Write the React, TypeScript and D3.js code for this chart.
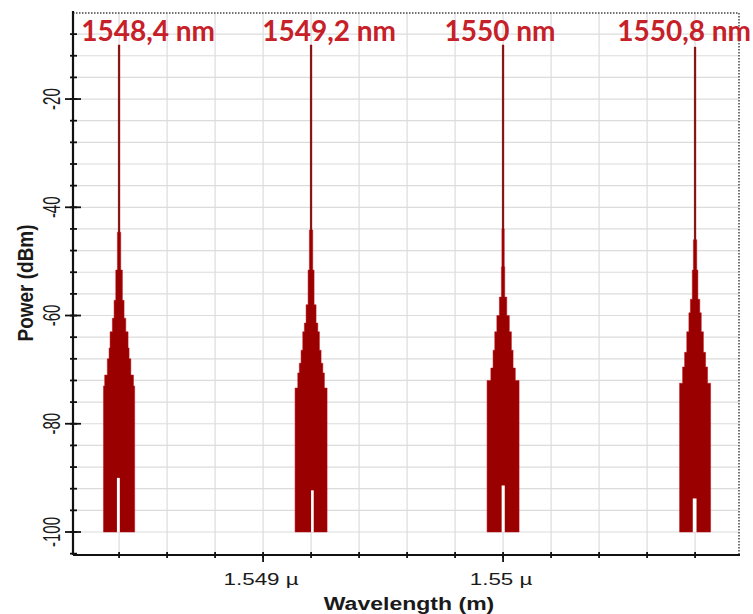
import * as d3 from "d3";

const W = 753;
const H = 614;

// wavelengths in nm, power in dBm
const xDomain = [1548.208, 1550.983];
const yDomain = [-104.25, -4.1];
const floorLevel = -100;

const peakCenters = [1548.4, 1549.2, 1550, 1550.8];
const peakLabels = ["1548,4 nm", "1549,2 nm", "1550 nm", "1550,8 nm"];
const labelDx = [29, 18, -3, -11];

// stepped envelope of each line: level (dBm) held within +/- half width (nm)
const levels1 = [-10, -44.6, -51.6, -57.2, -60.5, -63, -66, -68, -71, -73];
const widths1 = [0.0033, 0.007, 0.0138, 0.0208, 0.028, 0.0375, 0.0417, 0.049, 0.06, 0.065];
const levels2 = [-10, -44.2, -51.6, -58, -61.4, -63, -66.4, -68.8, -70.6, -73.4];
const widths2 = [0.0033, 0.007, 0.0125, 0.0208, 0.028, 0.0347, 0.0417, 0.049, 0.0555, 0.0667];
const levels3 = [-10, -44, -51, -56.6, -60, -63, -66.4, -69.7, -72];
const widths3 = [0.0033, 0.005, 0.007, 0.0154, 0.026, 0.0347, 0.0417, 0.051, 0.0667];
const levels4 = [-10.4, -46, -51.6, -57, -59.5, -63, -66.8, -69.5, -72.5];
const widths4 = [0.0033, 0.007, 0.0117, 0.0196, 0.0258, 0.0347, 0.0437, 0.052, 0.0646];
const envelopes = [
  [levels1, widths1],
  [levels2, widths2],
  [levels3, widths3],
  [levels4, widths4],
];

// gaps near the carrier where the trace does not reach the floor
const notchFrom = [-0.009, 0, -0.006, -0.0096];
const notchTo = [0.003, 0.011, 0.007, 0.006];
const notchTop = [-90, -92.3, -91.4, -93.8];

const yMajor = [-20, -40, -60, -80, -100];
const yMinor = d3.range(-104, -4, 4);
const xTicks = d3.range(1548.4, 1550.9, 0.2);
const xMajor = [1549, 1550];
const xMajorLabels = ["1.549 \u00b5", "1.55 \u00b5"];

const left = 73;
const right = 739;
const top = 13;
const bottom = 555;

const x = d3.scaleLinear().domain(xDomain).range([left, right]);
const y = d3.scaleLinear().domain(yDomain).range([bottom, top]);

const stair = (c: number, lv: number[], hw: number[]) => {
  const m = lv.length - 1;
  const pts: [number, number][] = [];
  for (let k = m; k >= 0; k--) pts.push([c - hw[k], lv[k]]);
  for (let k = 0; k <= m; k++) pts.push([c + hw[k], k < m ? lv[k + 1] : floorLevel]);
  return pts;
};

const area = d3
  .area<[number, number]>()
  .x((d) => x(d[0]))
  .y0(y(floorLevel))
  .y1((d) => y(d[1]))
  .curve(d3.curveStepAfter);

const axisFont = "'Liberation Sans', Arial, sans-serif";

export default function App() {
  return (
    <svg width={W} height={H} style={{ position: "absolute", left: 0, top: 0, background: "#fff" }}>
      {/* grid */}
      <g stroke="#dcdcdc" strokeWidth={1.2}>
        {yMinor
          .filter((v) => v >= -100)
          .map((v) => (
            <line key={"h" + v} x1={left} x2={right} y1={y(v)} y2={y(v)} />
          ))}
        {xTicks.map((v) => (
          <line key={"v" + v} x1={x(v)} x2={x(v)} y1={top} y2={bottom} />
        ))}
      </g>

      {/* spectra */}
      {peakCenters.map((c, i) => {
        const [lv, hw] = envelopes[i];
        return (
          <g key={"p" + i}>
            <path d={area(stair(c, lv, hw)) || ""} fill="#9a0000" stroke="#b8101a" strokeWidth={0.5} />
            <line x1={x(c)} x2={x(c)} y1={y(lv[0])} y2={y(lv[1])} stroke="#7d1414" strokeWidth={1.6} />
            <rect
              x={x(c + notchFrom[i])}
              width={x(c + notchTo[i]) - x(c + notchFrom[i])}
              y={y(notchTop[i])}
              height={y(floorLevel) - y(notchTop[i]) + 0.5}
              fill="#fff"
            />
          </g>
        );
      })}

      {/* frame */}
      <line x1={left} x2={right} y1={top} y2={top} stroke="#444" strokeWidth={1.5} strokeDasharray="1.5 1.5" />
      <line x1={right} x2={right} y1={top} y2={bottom} stroke="#444" strokeWidth={1.5} strokeDasharray="1.5 1.5" />
      <line x1={left} x2={right + 1} y1={bottom} y2={bottom} stroke="#111" strokeWidth={2.2} />
      <line x1={left} x2={left} y1={top - 2} y2={bottom} stroke="#111" strokeWidth={2.2} />

      {/* y ticks */}
      <g stroke="#111" strokeWidth={1.8}>
        {yMinor.map((v) => (
          <line key={"ym" + v} x1={left - 3} x2={left + 4} y1={y(v)} y2={y(v)} />
        ))}
        {yMajor.map((v) => (
          <line key={"yM" + v} x1={left - 8} x2={left + 8} y1={y(v)} y2={y(v)} />
        ))}
      </g>
      <g fontFamily={axisFont} fontSize={15} fill="#1a1a1a">
        {yMajor.map((v) => (
          <text key={"yl" + v} transform={`translate(60,${y(v)}) scale(1.55,1) rotate(-90)`} textAnchor="middle">
            {v}
          </text>
        ))}
      </g>

      {/* x ticks */}
      <g stroke="#111" strokeWidth={1.8}>
        {xTicks.map((v) => (
          <line key={"xm" + v} x1={x(v)} x2={x(v)} y1={bottom - 3} y2={bottom + 3} />
        ))}
        {xMajor.map((v) => (
          <line key={"xM" + v} x1={x(v)} x2={x(v)} y1={bottom} y2={bottom + 7} />
        ))}
      </g>
      <g fontFamily={axisFont} fontSize={16} fill="#1a1a1a">
        {xMajor.map((v, i) => (
          <text key={"xl" + v} transform={`translate(${x(v) - 2},585) scale(1.4,1)`} textAnchor="middle">
            {xMajorLabels[i]}
          </text>
        ))}
      </g>

      {/* axis titles */}
      <text
        transform={`translate(409,610) scale(1.28,1)`}
        textAnchor="middle"
        fontFamily={axisFont}
        fontWeight="bold"
        fontSize={18}
        fill="#1a1a1a"
      >
        Wavelength (m)
      </text>
      <text
        transform={`translate(33,283) scale(1.2,1) rotate(-90)`}
        textAnchor="middle"
        fontFamily={axisFont}
        fontWeight="bold"
        fontSize={19}
        fill="#1a1a1a"
      >
        Power (dBm)
      </text>

      {/* line labels */}
      <g fontFamily="Lato, 'Open Sans', sans-serif" fontWeight="bold" fontSize={28} fill="#c62028">
        {peakCenters.map((c, i) => (
          <text key={"lab" + i} x={x(c) + labelDx[i]} y={41} textAnchor="middle">
            {peakLabels[i]}
          </text>
        ))}
      </g>
    </svg>
  );
}
